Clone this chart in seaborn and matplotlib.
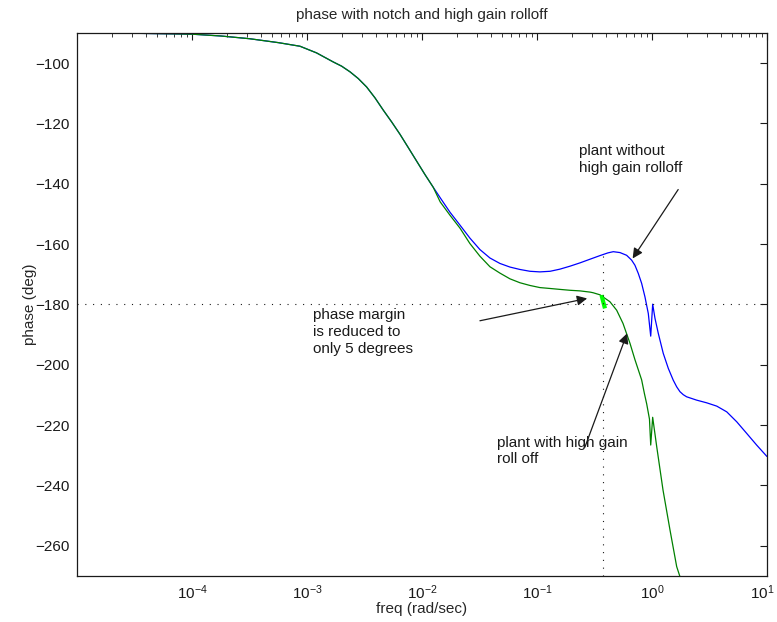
import matplotlib
matplotlib.use("Agg")
import matplotlib.pyplot as plt
import matplotlib.transforms as mtransforms
import pandas as pd
import seaborn as sns
from matplotlib.ticker import FixedLocator, LogLocator, NullFormatter

sns.set_theme(style="white")
plt.rcParams["font.family"] = ["Liberation Sans", "DejaVu Sans"]
plt.rcParams["mathtext.fontset"] = "custom"
plt.rcParams["mathtext.rm"] = "Liberation Sans"
plt.rcParams["mathtext.it"] = "Liberation Sans:italic"
plt.rcParams["mathtext.bf"] = "Liberation Sans:bold"

# Low-frequency phase shared by both loops (rad/sec, deg)
freq_low = [1.0e-5, 3.16e-5, 1.0e-4, 1.78e-4, 3.16e-4, 5.62e-4, 8.69e-4,
            1.21e-3, 1.69e-3, 2.0e-3, 2.37e-3, 2.79e-3, 3.30e-3, 3.90e-3,
            4.61e-3, 5.45e-3, 6.44e-3, 7.60e-3, 8.99e-3, 1.06e-2, 1.25e-2]
phase_low = [-90.0, -90.1, -90.4, -91.0, -91.9, -93.2, -94.4,
             -96.6, -99.6, -101.0, -102.9, -105.1, -107.9, -111.5,
             -115.6, -119.5, -123.6, -128.0, -132.5, -136.9, -141.1]

# Plant without high gain rolloff
freq_plain_hi = [1.48e-2, 1.75e-2, 2.14e-2, 2.61e-2, 3.19e-2, 3.90e-2, 4.76e-2,
                 5.82e-2, 7.11e-2, 8.69e-2, 0.106, 0.130, 0.158, 0.194, 0.237,
                 0.289, 0.353, 0.414, 0.461, 0.527, 0.602, 0.665, 0.711, 0.760,
                 0.813, 0.869, 0.929, 0.975, 1.014, 1.062, 1.135, 1.253, 1.387,
                 1.531, 1.64, 1.75, 1.87, 2.0, 2.44, 2.99, 3.66, 4.47, 5.46,
                 6.65, 8.13, 10.0]
phase_plain_hi = [-145.3, -149.4, -153.7, -158.0, -161.8, -164.6, -166.4,
                  -167.6, -168.4, -169.0, -169.2, -169.0, -168.3, -167.3, -166.2,
                  -165.0, -163.8, -162.9, -162.5, -162.8, -163.7, -165.3, -167.0,
                  -169.7, -173.0, -177.5, -183.0, -190.5, -179.9, -184.6, -189.6,
                  -196.2, -201.2, -205.1, -207.3, -208.9, -209.9, -210.6, -211.7,
                  -212.6, -213.7, -215.6, -218.9, -222.7, -226.6, -230.4]

# Plant with high gain roll off
freq_rolloff_hi = [1.44e-2, 1.75e-2, 2.14e-2, 2.61e-2, 3.19e-2, 3.90e-2,
                   4.76e-2, 5.82e-2, 7.11e-2, 8.69e-2, 0.106, 0.130, 0.158,
                   0.194, 0.237, 0.289, 0.307, 0.353, 0.375, 0.431, 0.493,
                   0.560, 0.644, 0.711, 0.813, 0.859, 0.900, 0.951, 0.975,
                   1.014, 1.10, 1.247, 1.435, 1.64, 1.75, 1.90]
phase_rolloff_hi = [-146.0, -150.4, -154.7, -159.8, -164.0, -167.5,
                    -169.6, -171.5, -172.8, -173.7, -174.4, -174.7, -175.0,
                    -175.3, -175.5, -175.9, -176.1, -176.8, -177.5, -179.1, -181.9,
                    -186.3, -192.9, -198.3, -205.0, -209.5, -213.0, -218.0, -226.6,
                    -217.4, -227.2, -241.5, -254.8, -266.9, -270.2, -274.0]

# Crossover frequency and phase margin segment
crossover_freq = 0.375
crossover_top = -164.0
margin_freq = [0.364, 0.39]
margin_phase = [-176.9, -181.3]
reference_phase = -180.0

y_ticks = [-260, -240, -220, -200, -180, -160, -140, -120, -100]
x_ticks = [1e-4, 1e-3, 1e-2, 1e-1, 1e0, 1e1]
x_tick_labels = [r"$10^{-4}$", r"$10^{-3}$", r"$10^{-2}$", r"$10^{-1}$",
                 r"$10^{0}$", r"$10^{1}$"]

df_plain = pd.DataFrame({"freq": freq_low + freq_plain_hi,
                         "phase": phase_low + phase_plain_hi})
df_rolloff = pd.DataFrame({"freq": freq_low + freq_rolloff_hi,
                           "phase": phase_low + phase_rolloff_hi})

fig = plt.figure(figsize=(7.77, 6.22), dpi=100)
ax = fig.add_axes([0.0991, 0.074, 0.888, 0.873])

sns.lineplot(data=df_plain, x="freq", y="phase", ax=ax, color="#0000ff",
             lw=0.9, estimator=None, sort=False)
sns.lineplot(data=df_rolloff, x="freq", y="phase", ax=ax, color="#008000",
             lw=0.9, estimator=None, sort=False)
ax.plot(margin_freq, margin_phase, color="#00ff00", lw=3.0,
        solid_capstyle="butt")

dots = (0, (1, 6))
ax.axhline(reference_phase, color="k", lw=0.8, ls=dots)
ax.plot([crossover_freq, crossover_freq], [-270, crossover_top], color="k",
        lw=0.8, ls=dots)

ax.set_xscale("log")
ax.set_xlim(1e-5, 10)
ax.set_ylim(-270, -90)
ax.xaxis.set_major_locator(FixedLocator(x_ticks))
ax.set_xticklabels(x_tick_labels)
ax.xaxis.set_minor_locator(LogLocator(base=10, subs=range(2, 10), numticks=20))
ax.xaxis.set_minor_formatter(NullFormatter())
ax.set_yticks(y_ticks)

ax.tick_params(which="both", direction="in", top=True, right=True,
               colors="k", labelsize=11, pad=5)
ax.tick_params(which="major", length=5, width=0.8)
ax.tick_params(which="minor", length=3, width=0.6)
for side in ax.spines.values():
    side.set_color("k")
    side.set_linewidth(0.9)

# keep the last decade label inside the figure edge
last_label = ax.get_xticklabels()[-1]
last_label.set_transform(last_label.get_transform() +
                         mtransforms.ScaledTranslation(-5 / 100, 0,
                                                       fig.dpi_scale_trans))

ax.set_xlabel("freq (rad/sec)", fontsize=11, labelpad=0)
ax.set_ylabel("phase (deg)", fontsize=11, labelpad=-1)
ax.set_title("phase with notch and high gain rolloff", fontsize=11, pad=10)

arrow = dict(arrowstyle="-|>", color="k", lw=0.9, mutation_scale=15,
             shrinkA=0, shrinkB=0)
ax.annotate("", xy=(0.679, -164.75), xytext=(1.69, -141.9), arrowprops=arrow)
ax.annotate("", xy=(0.273, -178.0), xytext=(0.0319, -185.4), arrowprops=arrow)
ax.annotate("", xy=(0.607, -189.6), xytext=(0.261, -227.3), arrowprops=arrow)

ax.text(0.233, -131.9, "plant without\nhigh gain rolloff", fontsize=11,
        ha="left", va="center", color="k", linespacing=1.25)
ax.text(1.135e-3, -189.1, "phase margin\nis reduced to\nonly 5 degrees",
        fontsize=11, ha="left", va="center", color="k", linespacing=1.25)
ax.text(0.0447, -228.6, "plant with high gain\nroll off", fontsize=11,
        ha="left", va="center", color="k", linespacing=1.25)

fig.savefig("out.png", dpi=100)
